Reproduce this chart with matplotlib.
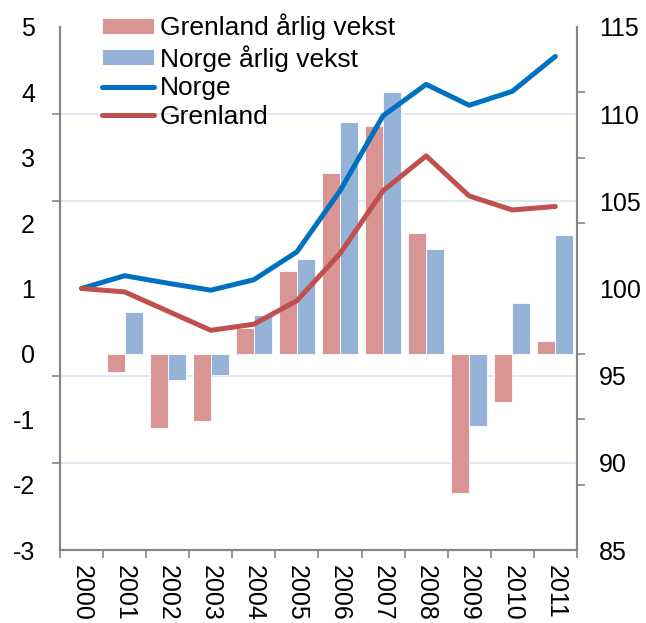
import numpy as np
import matplotlib
matplotlib.use("Agg")
import matplotlib.pyplot as plt

plt.rcParams['font.family'] = ['Liberation Sans', 'DejaVu Sans']

years = ['2000', '2001', '2002', '2003', '2004', '2005',
         '2006', '2007', '2008', '2009', '2010', '2011']

# annual growth (left axis), no value for 2000
grenland_vekst = [np.nan, -0.27, -1.14, -1.03, 0.40, 1.27, 2.76, 3.49, 1.85, -2.13, -0.74, 0.20]
norge_vekst = [np.nan, 0.64, -0.40, -0.33, 0.60, 1.45, 3.55, 4.01, 1.60, -1.10, 0.78, 1.81]

# index, 2000 = 100 (right axis)
norge_idx = [100, 100.73, 100.3, 99.9, 100.5, 102.1, 105.6, 109.9, 111.7, 110.5, 111.3, 113.3]
grenland_idx = [100, 99.8, 98.7, 97.6, 97.95, 99.3, 102.0, 105.6, 107.6, 105.3, 104.5, 104.7]

left_ticks = [-3, -2, -1, 0, 1, 2, 3, 4, 5]
right_ticks = [85, 90, 95, 100, 105, 110, 115]

c_gren_bar = '#D99594'
c_norge_bar = '#95B3D7'
c_norge = '#0070C0'
c_gren = '#C0504D'
c_spine = '#868686'
c_grid = '#DCE6F2'

fig = plt.figure(figsize=(6.46, 6.23), dpi=100)
ax = fig.add_axes([0.093, 0.117, 0.800, 0.840])
ax2 = ax.twinx()

x = np.arange(len(years))
w = 0.42
ax.bar(x - w / 2, grenland_vekst, w, color=c_gren_bar, edgecolor='white', linewidth=0.6,
       label='Grenland årlig vekst', zorder=2)
ax.bar(x + w / 2, norge_vekst, w, color=c_norge_bar, edgecolor='white', linewidth=0.6,
       label='Norge årlig vekst', zorder=2)

ax2.plot(x, norge_idx, color=c_norge, lw=3.6, label='Norge', solid_capstyle='round')
ax2.plot(x, grenland_idx, color=c_gren, lw=3.6, label='Grenland', solid_capstyle='round')

ax.set_xlim(-0.5, len(years) - 0.5)
ax.set_ylim(-3, 5)
ax2.set_ylim(85, 115)


def r2l(v):
    return -3 + (v - 85) / 30 * 8


def l2r(v):
    return 85 + (v + 3) * 30 / 8


# labels are on the right values, tick marks/gridlines are swapped (as in the original)
ax.set_yticks(left_ticks)
ax.set_yticklabels([str(t) for t in left_ticks])
ax.set_yticks([r2l(v) for v in right_ticks], minor=True)
ax.tick_params(axis='y', which='major', length=0, pad=18, labelsize=18)
ax.tick_params(axis='y', which='minor', length=6, width=1.2, color=c_spine, direction='out')
ax.grid(axis='y', which='minor', color=c_grid, lw=1.3)
ax.set_axisbelow(True)

ax2.set_yticks(right_ticks)
ax2.set_yticklabels([str(t) for t in right_ticks])
ax2.set_yticks([l2r(v) for v in left_ticks], minor=True)
ax2.tick_params(axis='y', which='major', length=0, pad=16, labelsize=18)
ax2.tick_params(axis='y', which='minor', length=6, width=1.2, color=c_spine, direction='out')

ax.set_xticks(x)
ax.set_xticklabels(years, rotation=-90, fontsize=18)
ax.set_xticks(np.arange(-0.5, len(years)), minor=True)
ax.tick_params(axis='x', which='major', length=0, pad=11)
ax.tick_params(axis='x', which='minor', length=6, width=1.2, color=c_spine, direction='out')

for a in (ax, ax2):
    a.spines['top'].set_visible(False)
    for s in ('left', 'right', 'bottom'):
        a.spines[s].set_color(c_spine)
        a.spines[s].set_linewidth(1.5)

h1, l1 = ax.get_legend_handles_labels()
h2, l2 = ax2.get_legend_handles_labels()
ax2.legend(h1 + h2, l1 + l2, loc='upper left', bbox_to_anchor=(0.06, 1.045),
           frameon=False, fontsize=19, handlelength=2.0, handletextpad=0.2,
           handleheight=0.55, labelspacing=0.17, borderaxespad=0)

fig.savefig('out.png', dpi=100)
